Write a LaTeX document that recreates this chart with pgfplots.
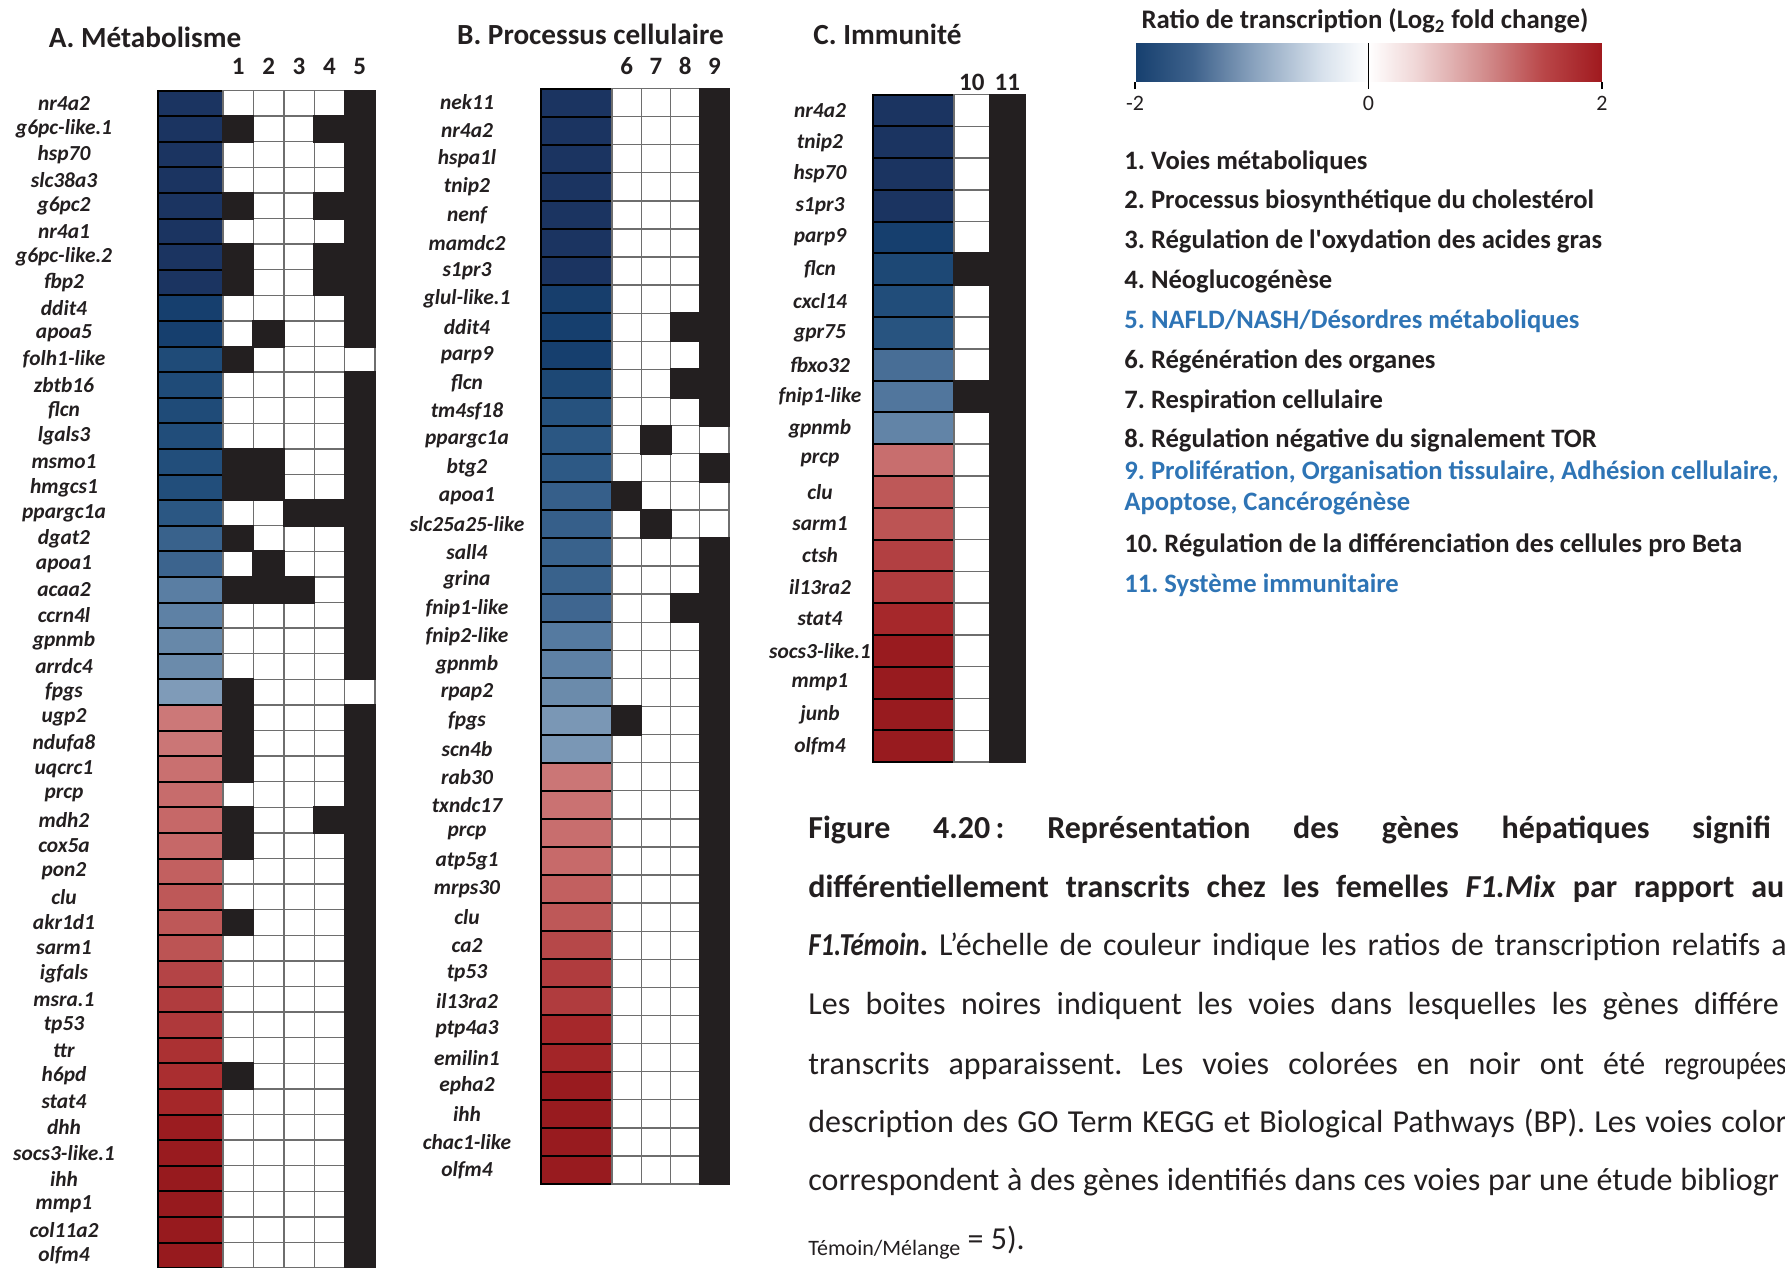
\documentclass[border=0pt]{standalone}
\usepackage{pgfplots}
\usepackage{pgfplotstable}
\pgfplotsset{compat=1.18}
\usepackage{fontspec}
\setmainfont{Carlito}
\newfontfamily\capfont{Carlito}[FakeStretch=0.83]

% 1 px of the reference = 0.5pt, y grows downwards (negative pt)
\definecolor{ink}{RGB}{35,31,32}
\definecolor{linkblue}{RGB}{46,116,181}
\definecolor{cellgray}{RGB}{110,110,110}

\tikzset{colnum/.style={font=\fontsize{12.5}{14}\selectfont\bfseries, text=ink}}
\pgfplotsset{
  colormap={barmap}{rgb255(0cm)=(22,63,110); rgb255(0.5cm)=(62,98,140);
    rgb255(1cm)=(135,160,188); rgb255(1.6cm)=(215,225,236); rgb255(2cm)=(255,255,255);
    rgb255(2.4cm)=(240,215,215); rgb255(3cm)=(210,140,140); rgb255(3.5cm)=(185,70,72);
    rgb255(4cm)=(160,25,30)},
  colormap={cellmap}{rgb255(0cm)=(27,52,97); rgb255(0.4cm)=(22,63,110);
    rgb255(0.8cm)=(31,75,120); rgb255(1.2cm)=(45,89,133); rgb255(1.5cm)=(63,102,144);
    rgb255(1.8cm)=(90,126,163); rgb255(2cm)=(107,139,171); rgb255(2.2cm)=(127,155,184);
    rgb255(3cm)=(255,255,255); rgb255(3.8cm)=(204,120,120); rgb255(4cm)=(198,104,104);
    rgb255(4.2cm)=(190,88,88); rgb255(4.5cm)=(178,64,66); rgb255(4.8cm)=(168,42,44);
    rgb255(5.2cm)=(155,28,32); rgb255(5.6cm)=(148,24,29)},
  panel/.style={scale only axis, anchor=north west, x=0.5pt, y dir=reverse, clip=false,
    axis line style={draw=none}, major tick length=0pt, xtick=\empty,
    yticklabel style={anchor=center, text=ink,
      font=\fontsize{10.7}{12}\selectfont\bfseries\itshape},
    colormap name=cellmap, point meta min=-3, point meta max=2.6},
  colplot/.style={only marks, scatter, scatter src=explicit, mark=colcell,
    scatter/use mapped color={draw=black, fill=mapped color}, mark options={line width=1pt}},
  whiteplot/.style={only marks, mark=memcell,
    mark options={draw=cellgray, fill=white, line width=0.7pt}},
  blackplot/.style={only marks, mark=blkcell, mark options={fill=ink, draw=none}},
}

\newlength\cw \newlength\ch \newlength\mw
\pgfdeclareplotmark{colcell}{%
  \pgfpathrectangle{\pgfqpoint{-0.5\cw}{-0.5\ch}}{\pgfqpoint{\cw}{\ch}}%
  \pgfusepathqfillstroke}
\pgfdeclareplotmark{memcell}{%
  \pgfpathrectangle{\pgfqpoint{-0.5\mw}{-0.5\ch}}{\pgfqpoint{\mw}{\ch}}%
  \pgfusepathqfillstroke}
\pgfdeclareplotmark{blkcell}{%
  \pgfpathrectangle{\pgfqpoint{\dimexpr-0.5\mw-0.5pt\relax}{\dimexpr-0.5\ch-0.5pt\relax}}%
    {\pgfqpoint{\dimexpr\mw+1pt\relax}{\dimexpr\ch+1pt\relax}}%
  \pgfusepathqfill}

% log2 fold change (read from the cell colours) and pathway membership
\pgfplotstableread{
idx gene v m1 m2 m3 m4 m5
1 nr4a2 -3.0 0 0 0 0 1
2 g6pc-like.1 -3.0 1 0 0 1 1
3 hsp70 -3.0 0 0 0 0 1
4 slc38a3 -3.0 0 0 0 0 1
5 g6pc2 -3.0 1 0 0 1 1
6 nr4a1 -3.0 0 0 0 0 1
7 g6pc-like.2 -3.0 1 0 0 1 1
8 fbp2 -3.0 1 0 0 1 1
9 ddit4 -2.6 0 0 0 0 1
10 apoa5 -2.6 0 1 0 0 1
11 folh1-like -2.2 1 0 0 0 0
12 zbtb16 -2.2 0 0 0 0 1
13 flcn -2.2 0 0 0 0 1
14 lgals3 -2.15 0 0 0 0 1
15 msmo1 -2.1 1 1 0 0 1
16 hmgcs1 -2.1 1 1 0 0 1
17 ppargc1a -1.85 0 0 1 1 1
18 dgat2 -1.6 1 0 0 0 1
19 apoa1 -1.55 0 1 0 0 1
20 acaa2 -1.2 1 1 1 0 1
21 ccrn4l -1.15 0 0 0 0 1
22 gpnmb -1.05 0 0 0 0 1
23 arrdc4 -1.0 0 0 0 0 1
24 fpgs -0.8 1 0 0 0 0
25 ugp2 0.8 1 0 0 0 1
26 ndufa8 0.82 1 0 0 0 1
27 uqcrc1 0.9 1 0 0 0 1
28 prcp 0.95 0 0 0 0 1
29 mdh2 1.0 1 0 0 1 1
30 cox5a 1.0 1 0 0 0 1
31 pon2 1.1 0 0 0 0 1
32 clu 1.2 0 0 0 0 1
33 akr1d1 1.2 1 0 0 0 1
34 sarm1 1.25 0 0 0 0 1
35 igfals 1.45 0 0 0 0 1
36 msra.1 1.55 0 0 0 0 1
37 tp53 1.6 0 0 0 0 1
38 ttr 1.7 0 0 0 0 1
39 h6pd 1.75 1 0 0 0 1
40 stat4 1.9 0 0 0 0 1
41 dhh 2.2 0 0 0 0 1
42 socs3-like.1 2.3 0 0 0 0 1
43 ihh 2.4 0 0 0 0 1
44 mmp1 2.4 0 0 0 0 1
45 col11a2 2.4 0 0 0 0 1
46 olfm4 2.4 0 0 0 0 1
}\tabA

\pgfplotstableread{
idx gene v m1 m2 m3 m4
1 nek11 -3.0 0 0 0 1
2 nr4a2 -3.0 0 0 0 1
3 hspa1l -3.0 0 0 0 1
4 tnip2 -3.0 0 0 0 1
5 nenf -3.0 0 0 0 1
6 mamdc2 -3.0 0 0 0 1
7 s1pr3 -3.0 0 0 0 1
8 glul-like.1 -2.65 0 0 0 1
9 ddit4 -2.6 0 0 1 1
10 parp9 -2.6 0 0 0 1
11 flcn -2.3 0 0 1 1
12 tm4sf18 -2.0 0 0 0 1
13 ppargc1a -1.85 0 1 0 0
14 btg2 -1.8 0 0 0 1
15 apoa1 -1.65 1 0 0 0
16 slc25a25-like -1.65 0 1 0 0
17 sall4 -1.6 0 0 0 1
18 grina -1.6 0 0 0 1
19 fnip1-like -1.5 0 0 1 1
20 fnip2-like -1.25 0 0 0 1
21 gpnmb -1.15 0 0 0 1
22 rpap2 -1.0 0 0 0 1
23 fpgs -0.85 1 0 0 1
24 scn4b -0.85 0 0 0 1
25 rab30 0.82 0 0 0 1
26 txndc17 0.88 0 0 0 1
27 prcp 0.92 0 0 0 1
28 atp5g1 0.98 0 0 0 1
29 mrps30 1.1 0 0 0 1
30 clu 1.2 0 0 0 1
31 ca2 1.4 0 0 0 1
32 tp53 1.55 0 0 0 1
33 il13ra2 1.55 0 0 0 1
34 ptp4a3 1.85 0 0 0 1
35 emilin1 1.95 0 0 0 1
36 epha2 2.3 0 0 0 1
37 ihh 2.35 0 0 0 1
38 chac1-like 2.35 0 0 0 1
39 olfm4 2.35 0 0 0 1
}\tabB

\pgfplotstableread{
idx gene v m1 m2
1 nr4a2 -3.0 0 1
2 tnip2 -3.0 0 1
3 hsp70 -3.0 0 1
4 s1pr3 -3.0 0 1
5 parp9 -2.6 0 1
6 flcn -2.3 1 1
7 cxcl14 -2.15 0 1
8 gpr75 -1.95 0 1
9 fbxo32 -1.4 0 1
10 fnip1-like -1.3 1 1
11 gpnmb -1.1 0 1
12 prcp 0.92 0 1
13 clu 1.2 0 1
14 sarm1 1.25 0 1
15 ctsh 1.5 0 1
16 il13ra2 1.55 0 1
17 stat4 1.85 0 1
18 socs3-like.1 2.3 0 1
19 mmp1 2.35 0 1
20 junb 2.35 0 1
21 olfm4 2.35 0 1
}\tabC

\begin{document}
\frenchspacing
\begin{tikzpicture}

% ---------- A. Metabolisme ----------
\setlength\cw{32.5pt}\setlength\ch{12.8pt}\setlength\mw{15.2pt}
\begin{axis}[panel, at={(79pt,-45.25pt)}, y=12.8pt,
  xmin=0, xmax=217, ymin=0.5, ymax=46.5,
  ytick={1,...,46}, yticklabels from table={\tabA}{gene},
  yticklabel style={xshift=-47pt}]
\addplot[colplot] table[x expr=32.5, y=idx, meta=v] {\tabA};
\pgfplotsinvokeforeach{1,...,5}{
  \addplot[whiteplot] table[x expr={65+30.4*(#1-0.5)}, y=idx] {\tabA};
}
\pgfplotsinvokeforeach{1,...,5}{
  \addplot[blackplot, restrict expr to domain={\thisrow{m#1}}{0.5:1.5}]
    table[x expr={65+30.4*(#1-0.5)}, y=idx] {\tabA};
  \node[colnum] at (axis cs:{65+30.4*(#1-0.5)},-0.457) {#1};
}
\end{axis}

% ---------- B. Processus cellulaire ----------
\setlength\cw{35.5pt}\setlength\ch{14.045pt}\setlength\mw{14.625pt}
\begin{axis}[panel, at={(270.5pt,-44.25pt)}, y=14.045pt,
  xmin=0, xmax=188, ymin=0.5, ymax=39.5,
  ytick={1,...,39}, yticklabels from table={\tabB}{gene},
  yticklabel style={xshift=-37pt}]
\addplot[colplot] table[x expr=35.5, y=idx, meta=v] {\tabB};
\pgfplotsinvokeforeach{1,...,4}{
  \addplot[whiteplot] table[x expr={71+29.25*(#1-0.5)}, y=idx] {\tabB};
}
\pgfplotsinvokeforeach{1,...,4}{
  \addplot[blackplot, restrict expr to domain={\thisrow{m#1}}{0.5:1.5}]
    table[x expr={71+29.25*(#1-0.5)}, y=idx] {\tabB};
  \node[colnum] at (axis cs:{71+29.25*(#1-0.5)},-0.3) {\the\numexpr#1+5\relax};
}
\end{axis}

% ---------- C. Immunite ----------
\setlength\cw{40.5pt}\setlength\ch{15.895pt}\setlength\mw{17.75pt}
\begin{axis}[panel, at={(436.5pt,-47.25pt)}, y=15.895pt,
  xmin=0, xmax=152, ymin=0.5, ymax=21.5,
  ytick={1,...,21}, yticklabels from table={\tabC}{gene},
  yticklabel style={xshift=-26.5pt}]
\addplot[colplot] table[x expr=40.5, y=idx, meta=v] {\tabC};
\pgfplotsinvokeforeach{1,2}{
  \addplot[whiteplot] table[x expr={81+35.5*(#1-0.5)}, y=idx] {\tabC};
}
\pgfplotsinvokeforeach{1,2}{
  \addplot[blackplot, restrict expr to domain={\thisrow{m#1}}{0.5:1.5}]
    table[x expr={81+35.5*(#1-0.5)}, y=idx] {\tabC};
  \node[colnum] at (axis cs:{81+35.5*(#1-0.5)},0.11) {\the\numexpr#1+9\relax};
}
\end{axis}

% ---------- colour scale ----------
\begin{axis}[at={(567.5pt,-21.5pt)}, anchor=north west,
  scale only axis, width=233.5pt, height=19.5pt, hide axis,
  xmin=0, xmax=1, ymin=0, ymax=1,
  colormap name=barmap, point meta min=-2, point meta max=2,
  colorbar horizontal, colorbar/width=19.5pt,
  colorbar shift/.style={},
  colorbar style={at={(parent axis.north west)}, anchor=north west,
    width=233.5pt, height=19.5pt, axis line style={draw=none},
    xtick={-2,0,2}, xticklabels={-2,0,2}, xtick pos=left,
    tick align=outside, major tick length=3.5pt,
    tick style={draw=black, line width=0.8pt},
    extra x ticks={0}, extra x tick labels={},
    extra x tick style={tick align=inside, major tick length=19.5pt},
    xticklabel style={font=\fontsize{11}{12}\selectfont, text=ink}}]
\addplot[draw=none] coordinates {(0,0)};
\end{axis}

% ---------- titles ----------
\begin{scope}[every node/.style={font=\fontsize{14.6}{16}\selectfont\bfseries, text=ink}]
\node at (72.5pt,-18.8pt) {A. Métabolisme};
\node at (295.25pt,-17pt) {B. Processus cellulaire};
\node at (443.75pt,-17pt) {C. Immunité};
\end{scope}
\node[font=\fontsize{13.4}{15}\selectfont\bfseries, text=ink] at (682.5pt,-10.25pt)
  {Ratio de transcription (Log\textsubscript{2} fold change)};

% ---------- pathway list ----------
\begin{scope}[every node/.style={anchor=west, inner sep=0pt,
    font=\fontsize{13.3}{15}\selectfont\bfseries, text=ink}]
\node at (562pt,-81pt) {1. Voies métaboliques};
\node at (562pt,-100.75pt) {2. Processus biosynthétique du cholestérol};
\node at (562pt,-120.5pt) {3. Régulation de l\textquotesingle oxydation des acides gras};
\node at (562pt,-140.5pt) {4. Néoglucogénèse};
\node[text=linkblue] at (562pt,-160.5pt) {5. NAFLD/NASH/Désordres métaboliques};
\node at (562pt,-180.5pt) {6. Régénération des organes};
\node at (562pt,-200.5pt) {7. Respiration cellulaire};
\node at (562pt,-220.25pt) {8. Régulation négative du signalement TOR};
\node[text=linkblue] at (562pt,-236pt) {9. Prolifération, Organisation tissulaire, Adhésion cellulaire,};
\node[text=linkblue] at (562pt,-252pt) {Apoptose, Cancérogénèse};
\node at (562pt,-272.5pt) {10. Régulation de la différenciation des cellules pro Beta};
\node[text=linkblue] at (562pt,-292.5pt) {11. Système immunitaire};
\end{scope}

% ---------- caption (cut by the right edge, as in the source page) ----------
\begin{scope}[every node/.style={anchor=west, inner sep=0pt,
    font=\fontsize{16}{18}\selectfont, text=ink}]
\node[font=\fontsize{16}{18}\selectfont\bfseries] at (404pt,-415pt)
  {\makebox[442pt][s]{Figure 4.20\,: Représentation des gènes hépatiques \rlap{signifi}}};
\node[font=\fontsize{16}{18}\selectfont\bfseries] at (404pt,-444.5pt)
  {\makebox[471.5pt][s]{différentiellement transcrits chez les femelles \textit{F1.Mix} par rapport \rlap{au}}};
\node at (404pt,-473.5pt)
  {\makebox[481.5pt][s]{{\capfont\bfseries\itshape F1.Témoin}{\bfseries .} L’échelle de couleur indique les ratios de transcription relatifs \rlap{a}}};
\node at (404pt,-503pt)
  {\makebox[443pt][s]{Les boites noires indiquent les voies dans lesquelles les gènes \rlap{différe}}};
\node at (404pt,-533pt)
  {\makebox[428pt][s]{transcrits apparaissent. Les voies colorées en noir ont été \rlap{\capfont regroupées}}};
\node at (404pt,-562pt)
  {\makebox[456.5pt][s]{description des GO Term KEGG et Biological Pathways (BP). Les voies \rlap{color}}};
\node at (404pt,-591pt)
  {\makebox[436pt][s]{correspondent à des gènes identifiés dans ces voies par une étude \rlap{bibliogr}}};
\node at (404pt,-621.5pt)
  {\raisebox{-3pt}{\fontsize{11}{12}\selectfont Témoin/Mélange} = 5).};
\end{scope}

\pgfresetboundingbox
\useasboundingbox (0pt,0pt) rectangle (892.5pt,-634pt);
\end{tikzpicture}
\end{document}
